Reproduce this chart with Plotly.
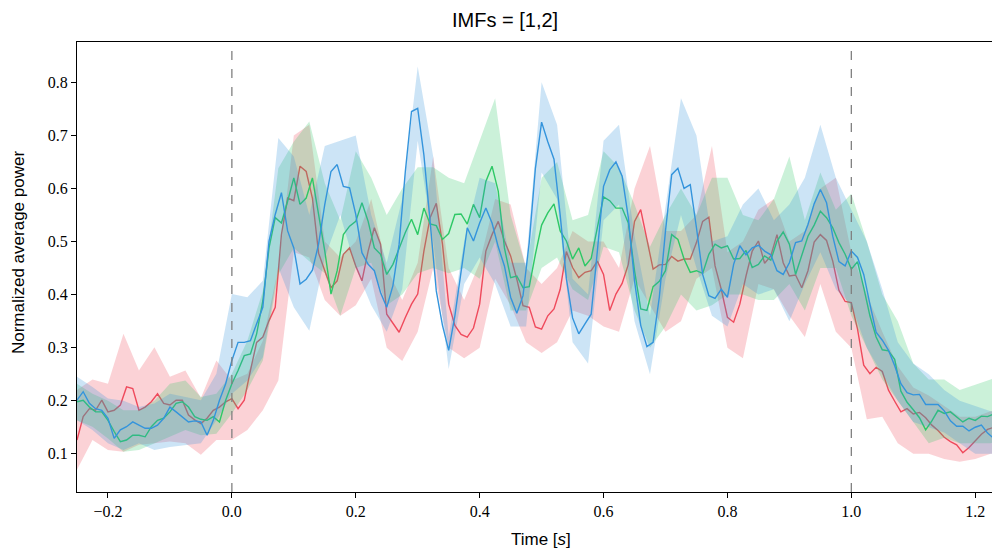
import plotly.graph_objects as go

# line samples, every 0.01 s from -0.25 to 1.24
t_line = [round(-0.25 + 0.01 * i, 2) for i in range(150)]

red_mean = [0.126, 0.170, 0.185, 0.182, 0.201, 0.179, 0.182, 0.192, 0.226, 0.223,
            0.182, 0.188, 0.198, 0.213, 0.195, 0.192, 0.201, 0.201, 0.173, 0.164,
            0.157, 0.167, 0.182, 0.188, 0.198, 0.204, 0.185, 0.201, 0.257, 0.310,
            0.320, 0.351, 0.376, 0.513, 0.582, 0.577, 0.642, 0.632, 0.582, 0.478,
            0.445, 0.413, 0.426, 0.476, 0.488, 0.454, 0.426, 0.482, 0.526, 0.495,
            0.363, 0.345, 0.329, 0.357, 0.382, 0.401, 0.482, 0.545, 0.572, 0.495,
            0.382, 0.342, 0.325, 0.320, 0.337, 0.382, 0.482, 0.513, 0.538, 0.501,
            0.473, 0.429, 0.379, 0.376, 0.339, 0.335, 0.360, 0.373, 0.410, 0.481,
            0.451, 0.432, 0.442, 0.445, 0.463, 0.438, 0.370, 0.401, 0.421, 0.457,
            0.538, 0.560, 0.502, 0.448, 0.456, 0.457, 0.472, 0.463, 0.467, 0.467,
            0.498, 0.538, 0.546, 0.454, 0.410, 0.357, 0.348, 0.382, 0.435, 0.482,
            0.501, 0.459, 0.473, 0.513, 0.460, 0.435, 0.437, 0.413, 0.445, 0.499,
            0.513, 0.502, 0.463, 0.408, 0.387, 0.385, 0.335, 0.267, 0.251, 0.263,
            0.255, 0.220, 0.199, 0.179, 0.185, 0.175, 0.178, 0.168, 0.154, 0.144,
            0.131, 0.123, 0.117, 0.102, 0.112, 0.124, 0.137, 0.146, 0.150, 0.142]

green_mean = [0.198, 0.201, 0.188, 0.179, 0.179, 0.163, 0.142, 0.123, 0.126, 0.135,
              0.135, 0.132, 0.151, 0.163, 0.167, 0.179, 0.195, 0.198, 0.188, 0.170,
              0.165, 0.163, 0.170, 0.160, 0.201, 0.232, 0.257, 0.285, 0.288, 0.326,
              0.388, 0.488, 0.545, 0.535, 0.576, 0.620, 0.570, 0.582, 0.620, 0.555,
              0.482, 0.401, 0.445, 0.513, 0.529, 0.538, 0.573, 0.538, 0.488, 0.476,
              0.438, 0.457, 0.488, 0.517, 0.542, 0.513, 0.563, 0.533, 0.530, 0.504,
              0.515, 0.551, 0.552, 0.533, 0.570, 0.545, 0.613, 0.642, 0.595, 0.488,
              0.432, 0.435, 0.413, 0.415, 0.476, 0.531, 0.554, 0.571, 0.520, 0.501,
              0.467, 0.488, 0.454, 0.468, 0.526, 0.584, 0.577, 0.563, 0.563, 0.535,
              0.445, 0.373, 0.370, 0.415, 0.425, 0.445, 0.513, 0.504, 0.467, 0.442,
              0.445, 0.440, 0.476, 0.495, 0.488, 0.492, 0.467, 0.468, 0.483, 0.451,
              0.457, 0.473, 0.465, 0.501, 0.518, 0.495, 0.438, 0.473, 0.510, 0.531,
              0.557, 0.545, 0.526, 0.498, 0.476, 0.448, 0.462, 0.413, 0.360, 0.320,
              0.296, 0.294, 0.278, 0.218, 0.197, 0.183, 0.168, 0.145, 0.162, 0.182,
              0.176, 0.179, 0.170, 0.160, 0.167, 0.163, 0.171, 0.170, 0.175, 0.188]

blue_mean = [0.201, 0.217, 0.195, 0.185, 0.182, 0.167, 0.129, 0.145, 0.151, 0.160,
             0.154, 0.148, 0.148, 0.154, 0.167, 0.188, 0.179, 0.170, 0.160, 0.162,
             0.160, 0.135, 0.163, 0.201, 0.232, 0.276, 0.310, 0.310, 0.313, 0.345,
             0.376, 0.501, 0.551, 0.592, 0.520, 0.488, 0.420, 0.429, 0.446, 0.495,
             0.570, 0.632, 0.645, 0.604, 0.601, 0.551, 0.479, 0.457, 0.445, 0.404,
             0.376, 0.417, 0.495, 0.632, 0.745, 0.751, 0.663, 0.538, 0.407, 0.342,
             0.295, 0.360, 0.445, 0.526, 0.501, 0.535, 0.563, 0.535, 0.490, 0.454,
             0.395, 0.365, 0.398, 0.498, 0.638, 0.725, 0.688, 0.655, 0.550, 0.430,
             0.356, 0.326, 0.345, 0.363, 0.482, 0.604, 0.635, 0.650, 0.623, 0.545,
             0.426, 0.342, 0.302, 0.310, 0.395, 0.520, 0.626, 0.638, 0.600, 0.607,
             0.526, 0.438, 0.398, 0.393, 0.410, 0.395, 0.457, 0.492, 0.475, 0.488,
             0.493, 0.482, 0.475, 0.445, 0.438, 0.460, 0.498, 0.501, 0.532, 0.571,
             0.598, 0.573, 0.510, 0.462, 0.454, 0.482, 0.470, 0.438, 0.382, 0.329,
             0.314, 0.295, 0.266, 0.232, 0.215, 0.211, 0.212, 0.193, 0.193, 0.193,
             0.181, 0.162, 0.152, 0.152, 0.143, 0.150, 0.154, 0.139, 0.129, 0.139]

# shaded bands, every 0.025 s from -0.25 to 1.25
t_band = [round(-0.25 + 0.025 * i, 3) for i in range(61)]

red_upper = [0.220, 0.240, 0.232, 0.326, 0.257, 0.301, 0.245, 0.257, 0.205, 0.276,
             0.238, 0.251, 0.313, 0.450, 0.700, 0.720, 0.500, 0.470, 0.500, 0.580,
             0.450, 0.390, 0.460, 0.660, 0.450, 0.390, 0.460, 0.580, 0.570, 0.450,
             0.420, 0.450, 0.520, 0.500, 0.500, 0.450, 0.600, 0.680, 0.520, 0.520,
             0.550, 0.680, 0.480, 0.500, 0.560, 0.580, 0.500, 0.520, 0.600, 0.620,
             0.480, 0.400, 0.330, 0.265, 0.225, 0.210, 0.190, 0.170, 0.170, 0.180,
             0.180]
red_lower = [0.070, 0.126, 0.107, 0.104, 0.117, 0.120, 0.123, 0.120, 0.098, 0.126,
             0.126, 0.145, 0.182, 0.238, 0.480, 0.470, 0.390, 0.360, 0.380, 0.430,
             0.300, 0.275, 0.330, 0.450, 0.300, 0.280, 0.300, 0.430, 0.380, 0.310,
             0.290, 0.310, 0.370, 0.360, 0.340, 0.330, 0.430, 0.380, 0.330, 0.350,
             0.430, 0.450, 0.300, 0.280, 0.420, 0.410, 0.360, 0.320, 0.420, 0.330,
             0.300, 0.165, 0.170, 0.120, 0.100, 0.100, 0.090, 0.085, 0.090, 0.100,
             0.100]

green_upper = [0.232, 0.213, 0.200, 0.182, 0.182, 0.200, 0.232, 0.238, 0.207, 0.213,
               0.251, 0.313, 0.407, 0.638, 0.688, 0.726, 0.610, 0.540, 0.670, 0.620,
               0.550, 0.600, 0.640, 0.640, 0.620, 0.610, 0.690, 0.770, 0.550, 0.450,
               0.620, 0.650, 0.540, 0.550, 0.670, 0.640, 0.570, 0.490, 0.550, 0.600,
               0.550, 0.620, 0.620, 0.550, 0.540, 0.580, 0.660, 0.540, 0.630, 0.560,
               0.590, 0.500, 0.400, 0.350, 0.270, 0.240, 0.240, 0.220, 0.230, 0.240,
               0.250]
green_lower = [0.163, 0.151, 0.129, 0.104, 0.107, 0.120, 0.132, 0.145, 0.135, 0.138,
               0.176, 0.220, 0.276, 0.438, 0.488, 0.463, 0.440, 0.360, 0.450, 0.460,
               0.380, 0.400, 0.440, 0.450, 0.440, 0.450, 0.430, 0.500, 0.370, 0.370,
               0.450, 0.470, 0.410, 0.390, 0.490, 0.480, 0.370, 0.300, 0.340, 0.400,
               0.370, 0.380, 0.400, 0.400, 0.390, 0.390, 0.420, 0.370, 0.450, 0.450,
               0.360, 0.300, 0.240, 0.200, 0.160, 0.120, 0.130, 0.120, 0.120, 0.120,
               0.130]

blue_upper = [0.245, 0.226, 0.204, 0.200, 0.188, 0.195, 0.213, 0.207, 0.201, 0.251,
              0.401, 0.395, 0.426, 0.695, 0.660, 0.550, 0.680, 0.690, 0.700, 0.550,
              0.460, 0.580, 0.830, 0.660, 0.320, 0.500, 0.620, 0.610, 0.460, 0.460,
              0.800, 0.720, 0.430, 0.400, 0.690, 0.720, 0.510, 0.360, 0.570, 0.770,
              0.700, 0.500, 0.510, 0.570, 0.600, 0.540, 0.570, 0.620, 0.720, 0.620,
              0.560, 0.500, 0.410, 0.310, 0.270, 0.250, 0.220, 0.200, 0.190, 0.180,
              0.180]
blue_lower = [0.163, 0.145, 0.120, 0.107, 0.120, 0.107, 0.113, 0.117, 0.120, 0.163,
              0.213, 0.238, 0.282, 0.451, 0.376, 0.332, 0.470, 0.550, 0.450, 0.380,
              0.330, 0.410, 0.690, 0.500, 0.260, 0.420, 0.470, 0.420, 0.340, 0.340,
              0.630, 0.580, 0.310, 0.270, 0.540, 0.570, 0.350, 0.250, 0.430, 0.550,
              0.450, 0.360, 0.340, 0.420, 0.400, 0.410, 0.350, 0.420, 0.480, 0.410,
              0.380, 0.300, 0.250, 0.200, 0.160, 0.150, 0.140, 0.120, 0.100, 0.100,
              0.100]

series = [
    ("red", red_mean, red_upper, red_lower, "rgb(239,74,92)", "rgba(239,74,92,0.25)"),
    ("green", green_mean, green_upper, green_lower, "rgb(46,200,102)", "rgba(46,200,102,0.25)"),
    ("blue", blue_mean, blue_upper, blue_lower, "rgb(52,148,220)", "rgba(52,148,220,0.25)"),
]

fig = go.Figure()
for name, mean, upper, lower, col, fillcol in series:
    fig.add_trace(go.Scatter(
        x=t_band + t_band[::-1],
        y=upper + lower[::-1],
        fill="toself", fillcolor=fillcol,
        line=dict(width=0), mode="lines",
        hoverinfo="skip", showlegend=False))
    fig.add_trace(go.Scatter(
        x=t_line, y=mean, mode="lines", name=name,
        line=dict(color=col, width=1.4), showlegend=False))

for xv in [0.0, 1.0]:
    fig.add_shape(type="line", xref="x", yref="paper", x0=xv, x1=xv, y0=0, y1=1,
                  line=dict(color="rgb(128,128,128)", width=1.3, dash="dash"))

tick_font = dict(family="Liberation Serif, DejaVu Serif, serif", size=16, color="black")
label_font = dict(family="Liberation Sans, DejaVu Sans, sans-serif", size=17, color="black")

# the page body has an 8px margin, so the figure is 8px smaller and shifted
fig.update_layout(
    width=992, height=545,
    margin=dict(l=69, r=0, t=34, b=61),
    plot_bgcolor="white", paper_bgcolor="white",
    xaxis=dict(range=[-0.25, 1.24], tickvals=[-0.2, 0.0, 0.2, 0.4, 0.6, 0.8, 1.0, 1.2],
               ticktext=["\u22120.2", "0.0", "0.2", "0.4", "0.6", "0.8", "1.0", "1.2"],
               showgrid=False, zeroline=False, showline=True, linecolor="black", linewidth=1.3,
               mirror=True, ticks="outside", ticklen=5, tickcolor="black", tickfont=tick_font),
    yaxis=dict(range=[0.028, 0.876], tickvals=[0.1, 0.2, 0.3, 0.4, 0.5, 0.6, 0.7, 0.8],
               ticktext=["0.1", "0.2", "0.3", "0.4", "0.5", "0.6", "0.7", "0.8"],
               showgrid=False, zeroline=False, showline=True, linecolor="black", linewidth=1.3,
               ticks="outside", ticklen=5, tickcolor="black", tickfont=tick_font),
    annotations=[
        dict(text="IMFs = [1,2]", x=0.4637, y=1.048, xref="paper", yref="paper",
             xanchor="center", yanchor="middle", showarrow=False,
             font=dict(family="Liberation Sans, DejaVu Sans, sans-serif", size=20, color="black")),
        dict(text="Time [<i>s</i>]", x=0.503, y=-0.106, xref="paper", yref="paper",
             xanchor="center", yanchor="middle", showarrow=False, font=label_font),
        dict(text="Normalized average power", x=-0.0639, y=0.531, xref="paper", yref="paper",
             xanchor="center", yanchor="middle", showarrow=False, textangle=-90, font=label_font),
    ],
)

fig.write_html("out.html")
